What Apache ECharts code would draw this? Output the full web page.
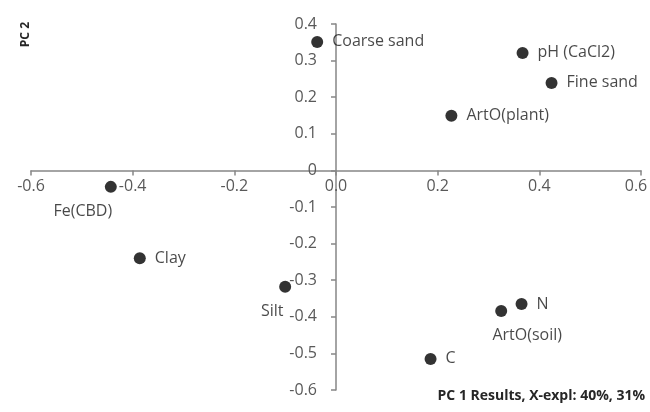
<!DOCTYPE html>
<html>
<head>
<meta charset="utf-8">
<script src="https://cdn.jsdelivr.net/npm/echarts@6/dist/echarts.min.js"></script>
<style>html,body{margin:0;padding:0;background:#fff}#c{width:650px;height:412px}</style>
</head>
<body>
<div id="c"></div>
<script>
// Data
const names = ['Coarse sand', 'pH (CaCl2)', 'Fine sand', 'ArtO(plant)', 'Fe(CBD)', 'Clay', 'Silt', 'ArtO(soil)', 'N', 'C'];
const pc1 = [-0.037, 0.367, 0.424, 0.227, -0.443, -0.386, -0.100, 0.325, 0.365, 0.186];
const pc2 = [0.351, 0.321, 0.239, 0.149, -0.045, -0.240, -0.318, -0.384, -0.365, -0.515];
const yTitle = 'PC 2';
const xTitle = 'PC 1 Results, X-expl: 40%, 31%';

const FONT = '"Open Sans", "Noto Sans", sans-serif';
// label placement (style only)
const labelPlace = {
  'Fe(CBD)': { position: 'inside', offset: [-28, 25] },
  'Silt': { position: 'inside', offset: [-13, 25] },
  'ArtO(soil)': { position: 'inside', offset: [26, 24] }
};

const data = names.map((n, i) => {
  const d = { name: n, value: [pc1[i], pc2[i]] };
  if (labelPlace[n]) d.label = labelPlace[n];
  return d;
});

const GL = 31, GR = 9, GT = 24, GB = 22;
const X_MAX = 0.6;
const chart = echarts.init(document.getElementById('c'), null, { renderer: 'canvas' });
const axisStyle = { color: '#868686', width: 1.5 };
const tickFont = { color: '#595959', fontFamily: FONT, fontSize: 16 };
chart.setOption({
  animation: false,
  backgroundColor: '#fff',
  grid: { left: GL, right: GR, top: GT, bottom: GB, containLabel: false, outerBoundsMode: 'none' },
  xAxis: {
    type: 'value', min: -0.6, max: X_MAX, interval: 0.2, position: 'bottom', offset: 0,
    axisLine: { onZero: false, lineStyle: axisStyle },
    axisTick: { show: true, inside: false, length: 5, lineStyle: axisStyle },
    axisLabel: Object.assign({ margin: 8, hideOverlap: false,
      formatter: v => (Math.abs(v - X_MAX) < 1e-9 ? '{e|' + v.toFixed(1) + '}' : v.toFixed(1)),
      rich: { e: Object.assign({ padding: [0, 10, 0, 0] }, tickFont) } }, tickFont),
    splitLine: { show: false }
  },
  yAxis: {
    type: 'value', min: -0.6, max: 0.4, interval: 0.1, position: 'left', offset: 0,
    axisLine: { onZero: false, lineStyle: axisStyle },
    axisTick: { show: true, inside: false, length: 5, lineStyle: axisStyle },
    axisLabel: Object.assign({ margin: 19,
      formatter: v => (Math.abs(v) < 1e-9 ? '0' : v.toFixed(1)) }, tickFont),
    splitLine: { show: false }
  },
  graphic: [
    { type: 'text', left: 20, top: 22, rotation: Math.PI / 2,
      style: { text: yTitle, font: 'bold 12px ' + FONT, fill: '#262626' } },
    { type: 'text', right: 5, top: 389,
      style: { text: xTitle, font: 'bold 14px ' + FONT, fill: '#262626' } }
  ],
  series: [{
    type: 'scatter',
    symbol: 'circle',
    symbolSize: 12,
    itemStyle: { color: '#000' },
    label: { show: true, position: 'right', distance: 9, formatter: '{b}',
      color: '#1a1a1a', fontFamily: FONT, fontSize: 16 },
    data: data
  }]
});
// place the axes through the origin (like Excel's crossing axes)
const origin = chart.convertToPixel({ gridIndex: 0 }, [0, 0]);
chart.setOption({
  xAxis: { offset: -((412 - GB) - origin[1]) },
  yAxis: { offset: -(origin[0] - GL) }
});
</script>
</body>
</html>
